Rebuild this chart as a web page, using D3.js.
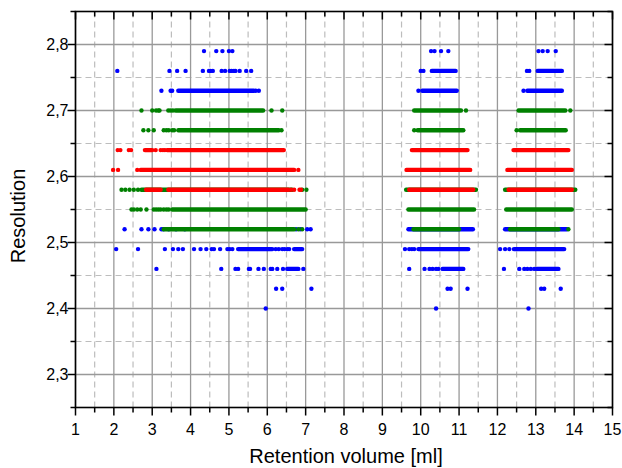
<!DOCTYPE html>
<html><head><meta charset="utf-8">
<script src="https://cdn.jsdelivr.net/npm/d3@7"></script>
<style>body{margin:0;background:#fff}svg{display:block}text{font-family:"Liberation Sans",Arial,sans-serif}</style>
</head><body>
<script>
// ---- data ----
const xMajorTicks = [1,2,3,4,5,6,7,8,9,10,11,12,13,14,15];
const yMajorTicks = [2.3,2.4,2.5,2.6,2.7,2.8];
const yMinorTicks = [2.25,2.35,2.45,2.55,2.65,2.75,2.85];
const xMinorTicks = [1.5,2.5,3.5,4.5,5.5,6.5,7.5,8.5,9.5,10.5,11.5,12.5,13.5,14.5];

// isolated points [x, y]
const blueDots = [
  [4.35,2.79],[4.67,2.79],[4.83,2.79],[5.00,2.79],[5.09,2.79],[10.27,2.79],[10.36,2.79],[10.53,2.79],[10.72,2.79],[13.07,2.79],[13.18,2.79],[13.31,2.79],[13.52,2.79],
  [2.09,2.76],[3.45,2.76],[3.65,2.76],[3.87,2.76],[4.32,2.76],[4.48,2.76],[4.52,2.76],[4.58,2.76],[4.81,2.76],[4.90,2.76],[5.02,2.76],[5.07,2.76],[5.13,2.76],[5.17,2.76],[5.28,2.76],[5.45,2.76],[5.58,2.76],[10.00,2.76],[10.07,2.76],[12.77,2.76],[12.83,2.76],
  [3.24,2.73],[3.48,2.73],[3.52,2.73],[5.70,2.73],[5.78,2.73],[9.94,2.73],[12.68,2.73],
  [2.28,2.52],[2.72,2.52],[2.90,2.52],[3.06,2.52],[3.24,2.52],[3.29,2.52],[3.43,2.52],[3.62,2.52],[3.85,2.52],[6.75,2.52],[6.86,2.52],[7.04,2.52],[7.13,2.52],
  [2.06,2.49],[2.63,2.49],[3.33,2.49],[3.54,2.49],[3.68,2.49],[3.80,2.49],[4.09,2.49],[4.26,2.49],[4.41,2.49],[4.55,2.49],[4.61,2.49],[4.77,2.49],[4.96,2.49],[5.02,2.49],[5.09,2.49],[6.22,2.49],[6.30,2.49],[6.39,2.49],[6.45,2.49],[6.52,2.49],[6.57,2.49],[9.59,2.49],[9.70,2.49],[9.77,2.49],[9.83,2.49],[12.07,2.49],[12.20,2.49],[12.31,2.49],
  [3.11,2.46],[4.80,2.46],[5.17,2.46],[5.24,2.46],[5.52,2.46],[5.55,2.46],[5.77,2.46],[5.91,2.46],[6.09,2.46],[6.13,2.46],[6.26,2.46],[6.41,2.46],[6.94,2.46],[9.70,2.46],[10.10,2.46],[10.23,2.46],[10.31,2.46],[10.40,2.46],[10.46,2.46],[12.17,2.46],[12.57,2.46],[12.70,2.46],[12.78,2.46],[12.87,2.46],[12.96,2.46],
  [6.23,2.43],[6.39,2.43],[7.15,2.43],[10.70,2.43],[10.78,2.43],[11.22,2.43],[13.14,2.43],[13.22,2.43],[13.65,2.43],
  [5.96,2.40],[10.40,2.40],[12.81,2.40]
];
// dense runs of points [xStart, xEnd, y]
const blueRuns = [
  [10.29,10.91,2.76],[13.05,13.68,2.76],
  [3.68,5.65,2.73],[10.04,10.94,2.73],[12.78,13.68,2.73],
  [9.68,11.36,2.52],[12.20,13.81,2.52],
  [5.24,6.13,2.49],[6.70,6.91,2.49],[9.94,11.24,2.49],[12.43,13.74,2.49],
  [6.52,6.81,2.46],[10.57,11.11,2.46],[13.03,13.59,2.46]
];
const greenDots = [
  [2.72,2.70],[3.00,2.70],[3.10,2.70],[3.16,2.70],[3.19,2.70],[3.42,2.70],[3.48,2.70],[3.54,2.70],[6.11,2.70],[6.39,2.70],[11.18,2.70],[13.90,2.70],
  [2.77,2.67],[2.90,2.67],[3.04,2.67],[3.30,2.67],[3.37,2.67],[3.43,2.67],[3.52,2.67],[3.57,2.67],[6.37,2.67],[9.83,2.67],[12.50,2.67],
  [2.20,2.58],[2.30,2.58],[2.41,2.58],[2.52,2.58],[2.63,2.58],[6.91,2.58],[7.02,2.58],
  [2.46,2.55],[2.52,2.55],[2.61,2.55],[2.70,2.55],[2.85,2.55],[3.04,2.55],[3.10,2.55],[3.16,2.55],[3.22,2.55],[3.30,2.55],[3.37,2.55],[3.43,2.55],
  [6.81,2.52],[6.91,2.52],[13.85,2.52]
];
const greenRuns = [
  [3.61,5.89,2.70],[9.83,11.05,2.70],[12.55,13.77,2.70],
  [3.68,6.30,2.67],[9.92,11.11,2.67],[12.59,13.78,2.67],
  [2.72,6.65,2.58],[9.62,11.44,2.58],[12.20,14.03,2.58],
  [3.52,7.00,2.55],[9.68,11.39,2.55],[12.23,13.94,2.55],
  [3.30,6.70,2.52],[9.81,11.00,2.52],[12.33,13.59,2.52]
];
const redDots = [
  [2.10,2.64],[2.17,2.64],[2.39,2.64],[2.45,2.64],[3.09,2.64],[3.22,2.64],[3.28,2.64],[3.33,2.64],
  [1.98,2.61],[2.11,2.61],[2.61,2.61],[6.81,2.61],
  [6.62,2.58],[6.70,2.58],[6.84,2.58],[6.88,2.58]
];
const redRuns = [
  [2.81,3.00,2.64],[3.39,6.43,2.64],[9.77,11.22,2.64],[12.42,13.85,2.64],
  [2.70,6.70,2.61],[9.63,11.29,2.61],[12.26,13.94,2.61],
  [2.84,3.22,2.58],[3.42,6.55,2.58],[9.70,11.37,2.58],[12.29,13.94,2.58]
];

// ---- layout ----
const W = 622, H = 468;
const L = 75.5, R = 612.5, T = 11.5, B = 407.5;
const x = d3.scaleLinear().domain([1,15]).range([L,R]);
const y = d3.scaleLinear().domain([2.25,2.85]).range([B,T]);
const fmt = d => d3.format(".1f")(d).replace(".", ",");

const svg = d3.select("body").append("svg").attr("width",W).attr("height",H);

// minor grid (dashed)
const g = svg.append("g");
g.selectAll(".vx").data(xMinorTicks).enter().append("line")
  .attr("x1",d=>x(d)).attr("x2",d=>x(d)).attr("y1",T).attr("y2",B)
  .attr("stroke","#bdbdbd").attr("stroke-width",1.2).attr("stroke-dasharray","6,4");
g.selectAll(".hy").data(yMinorTicks).enter().append("line")
  .attr("x1",L).attr("x2",R).attr("y1",d=>y(d)).attr("y2",d=>y(d))
  .attr("stroke","#bdbdbd").attr("stroke-width",1.2).attr("stroke-dasharray","6,4");
// major grid
g.selectAll(".vX").data(xMajorTicks).enter().append("line")
  .attr("x1",d=>x(d)).attr("x2",d=>x(d)).attr("y1",T).attr("y2",B)
  .attr("stroke","#999").attr("stroke-width",1.3);
g.selectAll(".hY").data(yMajorTicks).enter().append("line")
  .attr("x1",L).attr("x2",R).attr("y1",d=>y(d)).attr("y2",d=>y(d))
  .attr("stroke","#999").attr("stroke-width",1.3);

// data
function drawSeries(dots, runs, color){
  const s = svg.append("g");
  s.selectAll("line").data(runs).enter().append("line")
    .attr("x1",d=>x(d[0])).attr("x2",d=>x(d[1])).attr("y1",d=>y(d[2])).attr("y2",d=>y(d[2]))
    .attr("stroke",color).attr("stroke-width",4.4).attr("stroke-linecap","round");
  s.selectAll("circle").data(dots).enter().append("circle")
    .attr("cx",d=>x(d[0])).attr("cy",d=>y(d[1])).attr("r",2.2).attr("fill",color);
}
drawSeries(blueDots, blueRuns, "#0000ff");
drawSeries(greenDots, greenRuns, "#008000");
drawSeries(redDots, redRuns, "#ff0000");

// axes
const xAll = xMajorTicks.concat(xMinorTicks);
const yAll = yMajorTicks.concat(yMinorTicks);
const ax = svg.append("g").attr("stroke","#000");
ax.selectAll(".bt").data(xAll).enter().append("line")
  .attr("x1",d=>x(d)).attr("x2",d=>x(d)).attr("y1",B).attr("y2",d=>B+(Number.isInteger(d)?8:5)).attr("stroke-width",1.5);
ax.selectAll(".tt").data(xAll).enter().append("line")
  .attr("x1",d=>x(d)).attr("x2",d=>x(d)).attr("y1",T).attr("y2",d=>T+(Number.isInteger(d)?8:5)).attr("stroke-width",1.5);
ax.selectAll(".lt").data(yAll).enter().append("line")
  .attr("y1",d=>y(d)).attr("y2",d=>y(d)).attr("x1",L).attr("x2",d=>L-(yMajorTicks.includes(d)?8:5)).attr("stroke-width",1.5);
ax.selectAll(".rt").data(yAll).enter().append("line")
  .attr("y1",d=>y(d)).attr("y2",d=>y(d)).attr("x1",R).attr("x2",d=>R-(yMajorTicks.includes(d)?8:5)).attr("stroke-width",1.5);
svg.append("rect").attr("x",L).attr("y",T).attr("width",R-L).attr("height",B-T)
  .attr("fill","none").attr("stroke","#000").attr("stroke-width",1.6);

// tick labels
svg.append("g").selectAll("text").data(xMajorTicks).enter().append("text")
  .attr("x",d=>x(d)).attr("y",B+27).attr("text-anchor","middle").attr("font-size",16).text(d=>d);
svg.append("g").selectAll("text").data(yMajorTicks).enter().append("text")
  .attr("x",L-7).attr("y",d=>y(d)+5.5).attr("text-anchor","end").attr("font-size",16).text(fmt);

// axis titles
svg.append("text").attr("x",(L+R)/2 + 2).attr("y",463).attr("text-anchor","middle").attr("font-size",20).text("Retention volume [ml]");
svg.append("text").attr("transform",`translate(25,216) rotate(-90)`).attr("text-anchor","middle").attr("font-size",20).text("Resolution");
</script>
</body></html>
